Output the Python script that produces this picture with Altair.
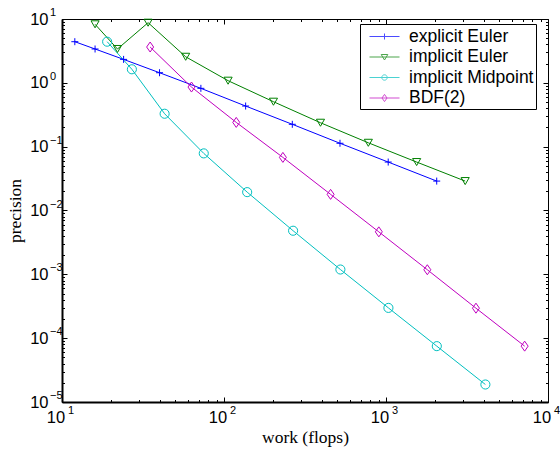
import json
import altair as alt
import pandas as pd

# ---------------- data ----------------
methods = ["explicit Euler", "implicit Euler", "implicit Midpoint", "BDF(2)"]
colors = ["#0000ff", "#008000", "#00bfbf", "#bf00bf"]

ee_work = [12, 16, 24, 40, 72, 136, 264, 520, 1032, 2056]
ee_prec = [4.41, 3.39, 2.33, 1.44, 0.82, 0.433, 0.224, 0.113, 0.0574, 0.0289]

ie_work = [16, 22, 34, 58, 106, 202, 394, 778, 1546, 3082]
ie_prec = [8.26, 3.39, 8.75, 2.56, 1.08, 0.506, 0.237, 0.115, 0.0574, 0.0289]

im_work = [19, 27, 43, 75, 139, 267, 523, 1035, 2059, 4107]
im_prec = [4.41, 1.63, 0.328, 0.0785, 0.0194, 0.00482, 0.00119, 0.000298, 7.5e-5, 1.88e-5]

bdf_work = [35, 63, 119, 231, 455, 903, 1799, 3591, 7175]
bdf_prec = [3.64, 0.859, 0.240, 0.0679, 0.0179, 0.00463, 0.00118, 0.000295, 7.5e-5]

x_ticks = [10, 100, 1000, 10000]
x_exponents = ["1", "2", "3", "4"]
y_ticks = [1e-5, 1e-4, 1e-3, 1e-2, 1e-1, 1, 10]
y_exponents = ["\u22125", "\u22124", "\u22123", "\u22122", "\u22121", "0", "1"]
x_minor = [m * 10 ** k for k in range(1, 4) for m in range(2, 10)]
y_minor = [m * 10.0 ** k for k in range(-5, 1) for m in range(2, 10)]

series = [(methods[0], ee_work, ee_prec), (methods[1], ie_work, ie_prec),
          (methods[2], im_work, im_prec), (methods[3], bdf_work, bdf_prec)]
rows = []
for name, ws, ps in series:
    for w, p in zip(ws, ps):
        rows.append({"method": name, "work": w, "precision": p})
df = pd.DataFrame(rows)

# ---------------- styling ----------------
W, H = 486, 383
SANS = "Liberation Sans"
SERIF = "Liberation Serif"

plot_shapes = ["M-1,0H1M0,-1V1", "triangle-down", "circle", "M0,-1L0.7,0L0,1L-0.7,0Z"]
plot_sizes = [49, 100, 81, 100]
legend_paths = [
    "M-1.5,0H1.5M0,-0.3V0.3",
    "M-1.5,0H1.5M-0.33,-0.25L0.33,-0.25L0,0.3Z",
    "M-1.5,0H1.5M-0.27,0A0.27,0.27,0,1,0,0.27,0A0.27,0.27,0,1,0,-0.27,0",
    "M-1.5,0H1.5M0,-0.36L0.25,0L0,0.36L-0.25,0Z",
]

xscale = alt.Scale(type="log", domain=[10, 10000], nice=False)
yscale = alt.Scale(type="log", domain=[1e-5, 10], nice=False)
stroke_scale = alt.Scale(domain=methods, range=colors)

x_exp_expr = json.dumps(x_exponents) + "[round(log(datum.value)/LN10) - 1]"
y_exp_expr = json.dumps(y_exponents) + "[round(log(datum.value)/LN10) + 5]"

common = dict(grid=False, labelFlush=False, labelOverlap=False, labelBound=False)


def tick_axis(orient, values, size):
    return alt.Axis(orient=orient, values=values, offset=-size, tickSize=size, ticks=True,
                    labels=False, domain=False, tickColor="black", tickWidth=1,
                    title=None, **common)


base = alt.Chart(df)


def enc(ch, xa, ya):
    return ch.encode(
        x=alt.X("work:Q", scale=xscale, axis=xa),
        y=alt.Y("precision:Q", scale=yscale, axis=ya),
    )


x_label_axis = alt.Axis(
    orient="bottom", values=x_ticks, labelExpr="'10'", ticks=False, tickSize=0,
    domain=True, domainColor="black", domainWidth=2,
    labelFont=SANS, labelFontSize=16.5, labelColor="black", labelAlign="right",
    labelOffset=2.6, labelBaseline="top", labelPadding=7,
    title="work (flops)", titleFont=SERIF, titleFontSize=17.5, titleFontWeight="normal",
    titleColor="black", titleBaseline="alphabetic", titleAlign="center",
    titleX=W / 2, titleY=40, **common)
y_label_axis = alt.Axis(
    orient="left", values=y_ticks, labelExpr="'10'", ticks=False, tickSize=0,
    domain=True, domainColor="black", domainWidth=2,
    labelFont=SANS, labelFontSize=16.5, labelColor="black", labelAlign="right",
    labelBaseline="middle", labelPadding=14,
    title="precision", titleFont=SERIF, titleFontSize=17.5, titleFontWeight="normal",
    titleColor="black", titleBaseline="alphabetic", titleAlign="center", titleAngle=270,
    titleX=-41.3, titleY=H / 2, **common)

x_exp_axis = alt.Axis(
    orient="bottom", values=x_ticks, labelExpr=x_exp_expr, ticks=False, tickSize=0,
    domain=False, labelFont=SANS, labelFontSize=11, labelColor="black", labelAlign="left",
    labelOffset=5.5, labelBaseline="top", labelPadding=2, title=None, **common)
y_exp_axis = alt.Axis(
    orient="left", values=y_ticks, labelExpr=y_exp_expr, ticks=False, tickSize=0,
    domain=False, labelFont=SANS, labelFontSize=11, labelColor="black", labelAlign="left",
    labelBaseline="middle", labelPadding=12.5, labelOffset=-6.5, title=None, **common)

legend = alt.Legend(
    title=None, orient="none", legendX=298, legendY=5, direction="vertical",
    strokeColor="black", fillColor="white", padding=2,
    labelFont=SANS, labelFontSize=17.5, labelColor="black", labelLimit=0,
    labelExpr="datum.label + '\u00a0\u00a0'",
    symbolSize=400, symbolStrokeWidth=1, symbolOffset=12, labelOffset=14,
    rowPadding=1.5,
)

lines = enc(base.mark_line(strokeWidth=1), x_label_axis, y_label_axis).encode(
    stroke=alt.Stroke("method:N", scale=stroke_scale, legend=None)
)

points = enc(base.mark_point(filled=False, strokeWidth=1, opacity=1), x_exp_axis, y_exp_axis).encode(
    shape=alt.Shape("method:N", scale=alt.Scale(domain=methods, range=plot_shapes), legend=None),
    stroke=alt.Stroke("method:N", scale=stroke_scale, legend=None),
    size=alt.Size("method:N", scale=alt.Scale(domain=methods, range=plot_sizes), legend=None),
)

# legend-only layer (no rows drawn; legend built from the explicit scale domains)
legend_layer = base.transform_filter("false").mark_point(filled=False, strokeWidth=1).encode(
    x=alt.X("work:Q", scale=xscale, axis=None),
    y=alt.Y("precision:Q", scale=yscale, axis=None),
    color=alt.Color("method:N", scale=alt.Scale(domain=methods, range=colors), legend=legend),
    shape=alt.Shape("method:N", scale=alt.Scale(domain=methods, range=legend_paths), legend=legend),
)

inv = base.mark_point(opacity=0)
l3 = enc(inv, tick_axis("bottom", x_ticks, 5), tick_axis("left", y_ticks, 5))
l4 = enc(inv, tick_axis("bottom", x_minor, 2.5), tick_axis("left", y_minor, 2.5))
l5 = enc(inv, tick_axis("top", x_ticks, 5), tick_axis("right", y_ticks, 5))
l6 = enc(inv, tick_axis("top", x_minor, 2.5), tick_axis("right", y_minor, 2.5))

chart = (
    alt.layer(lines, points, l3, l4, l5, l6, legend_layer)
    .resolve_axis(x="independent", y="independent")
    .resolve_scale(shape="independent", color="independent")
    .properties(
        width=W, height=H,
        padding={"left": 62, "top": 19, "right": 12, "bottom": 50},
        autosize=alt.AutoSizeParams(type="none"),
        background="white",
    )
    .configure_view(stroke="black", strokeWidth=1)
)

chart.save("out.html", embed_options={"renderer": "svg", "actions": False})
